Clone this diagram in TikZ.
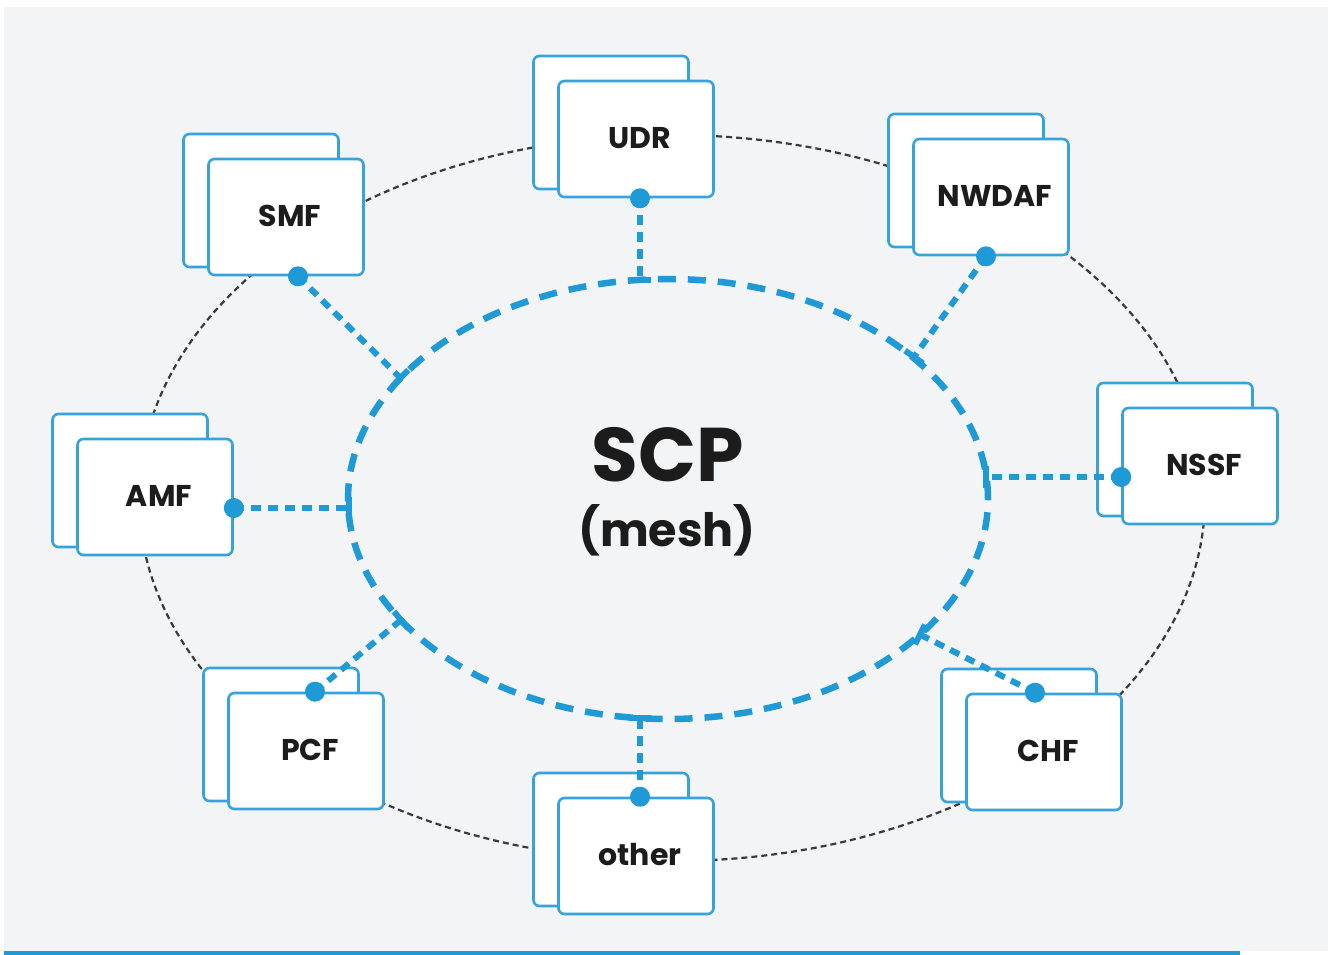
\documentclass[tikz,border=0pt]{standalone}
\usepackage{fontspec}
\setmainfont{Poppins}
\usetikzlibrary{calc}
\definecolor{meshblue}{HTML}{1F9AD6}
\definecolor{cardblue}{HTML}{38A3DA}
\definecolor{panel}{HTML}{F3F4F6}
\definecolor{ringgray}{HTML}{3A3A3A}
\definecolor{ink}{HTML}{1C1C1C}
\begin{document}
\begin{tikzpicture}[x=1pt,y=-1pt,
  card/.style={draw=cardblue, line width=2.6pt, fill=white, rounded corners=6pt,
    minimum width=155pt, minimum height=116pt, inner sep=0pt},
  backcard/.style={card, minimum height=133pt},
  cardtext/.style={font=\fontsize{30}{36}\selectfont\bfseries, text=ink},
  ring/.style={draw=ringgray, line width=2.2pt, dash pattern=on 6pt off 4pt},
  mesh/.style={draw=meshblue, line width=6.5pt, dash pattern=on 18pt off 12pt},
  link/.style={draw=meshblue, line width=6pt, dash pattern=on 10pt off 7pt},
  tick/.style={draw=meshblue, line width=6pt},
  port/.style={circle, fill=meshblue, minimum size=20pt, inner sep=0pt},
]
\useasboundingbox (0,0) rectangle (1328,955);
\fill[white] (0,0) rectangle (1328,955);
\fill[panel] (4,7) rectangle (1328,951);
\fill[meshblue] (4,951) rectangle (1240,955);

% outer ring joining the network functions
\draw[ring] (672,498) ellipse [x radius=533pt, y radius=363pt];

% service communication proxy mesh
\draw[mesh] (668,499) ellipse [x radius=320pt, y radius=220pt];
\node[font=\fontsize{76}{80}\selectfont\bfseries, text=ink] (scp) at (668,455) {SCP};
\node[font=\fontsize{46}{50}\selectfont\bfseries, text=ink] (meshlbl) at (667,530) {(mesh)};

% network function cards (stacked pair) with their names
\foreach \nm/\cx/\cy/\txt in {udr/636/139/UDR, smf/286/217/SMF, nwdaf/991/197/NWDAF,
    nssf/1200/466/NSSF, amf/155/497/AMF, pcf/306/751/PCF, other/636/856/other,
    chf/1044/752/CHF}{
  \node[backcard] (\nm-back) at (\cx-25,\cy-16.5) {};
  \node[card] (\nm) at (\cx,\cy) {};
  \node[cardtext] (\nm-name) at (\cx+4,\cy-1) {\txt};
}

% junctions on the mesh
\coordinate (j-udr) at (640,280);
\coordinate (j-smf) at (400.5,378);
\coordinate (j-nwdaf) at (914,357);
\coordinate (j-nssf) at (986,477);
\coordinate (j-amf) at (348.5,508);
\coordinate (j-pcf) at (401,620);
\coordinate (j-other) at (640,718);
\coordinate (j-chf) at (920,634.5);

% ports on the cards
\node[port] (p-udr) at ([xshift=4pt]udr.south) {};
\node[port] (p-smf) at ([xshift=12pt]smf.south) {};
\node[port] (p-nwdaf) at ([xshift=-5pt]nwdaf.south) {};
\node[port] (p-nssf) at ([yshift=-11pt]nssf.west) {};
\node[port] (p-amf) at ([yshift=-11pt]amf.east) {};
\node[port] (p-pcf) at ([xshift=9pt]pcf.north) {};
\node[port] (p-other) at ([xshift=4pt]other.north) {};
\node[port] (p-chf) at ([xshift=-9pt]chf.north) {};

% links from each port to the mesh
\foreach \nm in {udr,smf,nwdaf,nssf,amf,pcf,other,chf}{
  \draw[link] (p-\nm.center) -- (j-\nm);
  \draw[tick] ($(j-\nm)!11pt!90:(p-\nm.center)$) -- ($(j-\nm)!11pt!-90:(p-\nm.center)$);
}
\end{tikzpicture}
\end{document}
